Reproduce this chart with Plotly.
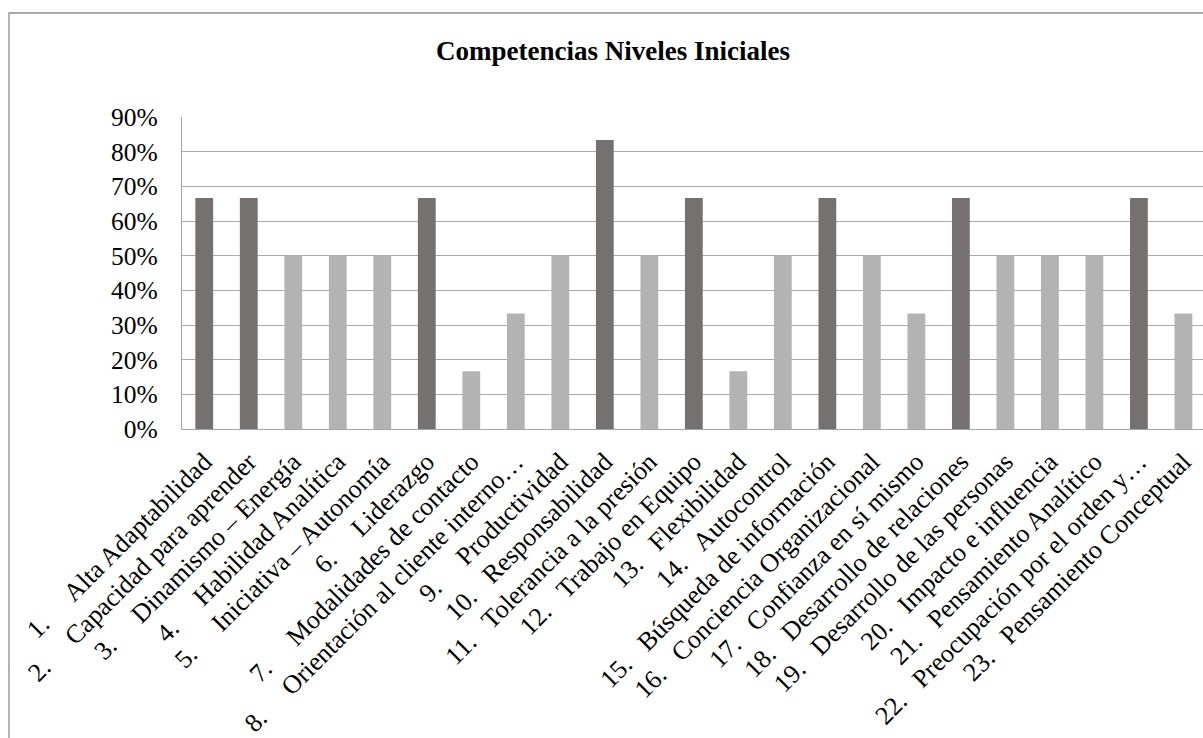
import plotly.graph_objects as go

NB = "\u00a0"

numbers = [f"{i}." for i in range(1, 24)]
names = [
    "Alta Adaptabilidad",
    "Capacidad para aprender",
    "Dinamismo – Energía",
    "Habilidad Analítica",
    "Iniciativa – Autonomía",
    "Liderazgo",
    "Modalidades de contacto",
    "Orientación al cliente interno…",
    "Productividad",
    "Responsabilidad",
    "Tolerancia a la presión",
    "Trabajo en Equipo",
    "Flexibilidad",
    "Autocontrol",
    "Búsqueda de información",
    "Conciencia Organizacional",
    "Confianza en sí mismo",
    "Desarrollo de relaciones",
    "Desarrollo de las personas",
    "Impacto e influencia",
    "Pensamiento Analítico",
    "Preocupación por el orden y…",
    "Pensamiento Conceptual",
]
values = [0.6667, 0.6667, 0.5, 0.5, 0.5, 0.6667, 0.1667, 0.3333, 0.5, 0.8333,
          0.5, 0.6667, 0.1667, 0.5, 0.6667, 0.5, 0.3333, 0.6667, 0.5, 0.5,
          0.5, 0.6667, 0.3333]
y_tick_values = [0, 0.1, 0.2, 0.3, 0.4, 0.5, 0.6, 0.7, 0.8, 0.9]

DARK = "#767171"
LIGHT = "#b3b3b3"
FONT = "Liberation Serif"

# number followed by a tab-like gap (name starts at a fixed offset)
labels = []
for num, name in zip(numbers, names):
    pad = NB * 3 if len(num) == 3 else NB * 5
    labels.append(num + pad + name)

colors = [DARK if v > 0.6 else LIGHT for v in values]

fig = go.Figure(go.Bar(
    x=labels,
    y=values,
    marker=dict(color=colors, line=dict(width=0)),
    showlegend=False,
))

W, H = 1203, 738
L, R, T, B = 182, 0, 117, 309
pw = W - L - R
ph = H - T - B

fig.update_layout(
    template="none",
    width=W,
    height=H,
    margin=dict(l=L, r=R, t=T, b=B, pad=0),
    paper_bgcolor="white",
    plot_bgcolor="white",
    bargap=0.6,
    font=dict(family=FONT, size=26, color="black"),
    title=dict(
        text="<b>Competencias Niveles Iniciales</b>",
        x=613 / W,
        xref="container",
        xanchor="center",
        y=1 - 51 / H,
        yref="container",
        yanchor="middle",
        font=dict(family=FONT, size=27, color="black"),
    ),
    xaxis=dict(
        type="category",
        range=[-0.5, 22.44],
        tickangle=-45,
        showgrid=False,
        showline=True,
        linecolor="#a6a6a6",
        linewidth=1.3,
        ticks="",
        ticklabelstandoff=6,
        automargin=False,
        tickfont=dict(family=FONT, size=26, color="black"),
        zeroline=False,
    ),
    yaxis=dict(
        range=[0, 0.9],
        tickvals=y_tick_values,
        tickformat=".0%",
        showgrid=True,
        gridcolor="#ababab",
        gridwidth=1.3,
        showline=True,
        linecolor="#a6a6a6",
        linewidth=1.3,
        ticks="",
        ticklabelstandoff=18,
        automargin=False,
        zeroline=False,
        tickfont=dict(family=FONT, size=25.5, color="black"),
    ),
    shapes=[
        dict(
            type="rect",
            xref="paper",
            yref="paper",
            x0=(9 - L) / pw,
            x1=(W + 40 - L) / pw,
            y0=(H - B - (H + 40)) / ph,
            y1=(H - B - 13) / ph,
            line=dict(color="#8c8c8c", width=1.3),
            fillcolor="rgba(0,0,0,0)",
            layer="below",
        )
    ],
)

fig.write_html("out.html")
